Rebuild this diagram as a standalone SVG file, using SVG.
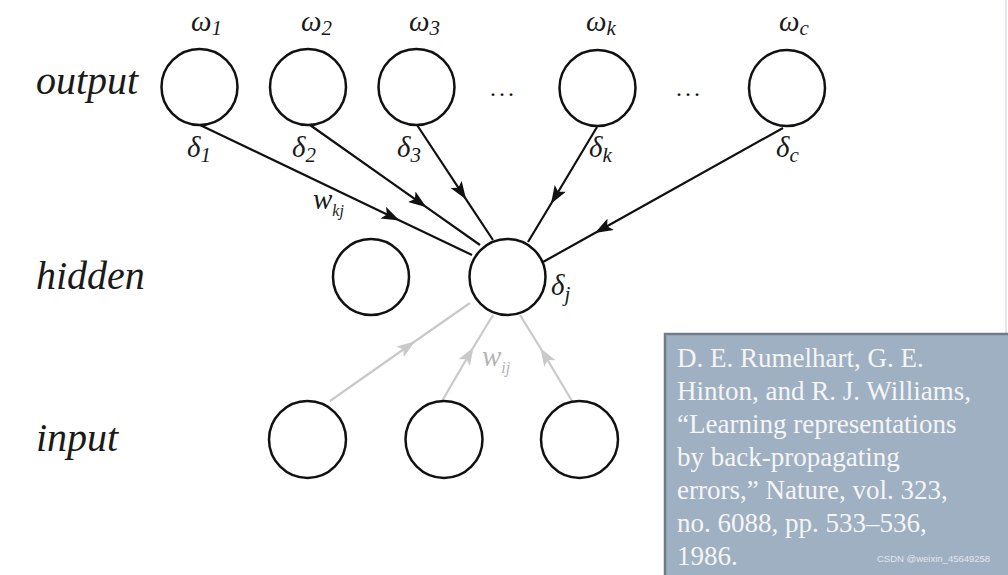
<svg xmlns="http://www.w3.org/2000/svg" width="1008" height="575" viewBox="0 0 1008 575">
<style>
.node{fill:#fff;stroke:#111;stroke-width:2.5}
.lbl{font-family:"Liberation Serif",serif;font-style:italic;font-size:40px;fill:#1a1a1a}
.sym{font-family:"Liberation Serif",serif;font-style:italic;font-size:29px;fill:#1a1a1a}
.sub{font-size:21px}
.dots{font-family:"Liberation Serif",serif;font-size:24px;fill:#111;letter-spacing:3px}
.blk{stroke:#111;stroke-width:2.2;fill:none;marker-mid:url(#ab)}
.gry{stroke:#c9c9c9;stroke-width:2.2;fill:none;marker-mid:url(#ag)}
.ref{font-family:"Liberation Serif",serif;font-size:27px;fill:#f5f5f5}
</style>
<defs>
<marker id="ab" viewBox="0 0 18 13" refX="17" refY="6.5" markerWidth="18" markerHeight="13" markerUnits="userSpaceOnUse" orient="auto"><path d="M0,0 L18,6.5 L0,13 L4,6.5 Z" fill="#111"/></marker>
<marker id="ag" viewBox="0 0 18 13" refX="17" refY="6.5" markerWidth="18" markerHeight="13" markerUnits="userSpaceOnUse" orient="auto"><path d="M0,0 L18,6.5 L0,13 L4,6.5 Z" fill="#c9c9c9"/></marker>
</defs>
<rect width="1008" height="575" fill="#fff"/>
<line x1="1006" y1="0" x2="1006" y2="333" stroke="#e4e6ea" stroke-width="2"/>

<g id="layer-labels">
<text class="lbl" x="36" y="94">output</text>
<text class="lbl" x="36" y="289">hidden</text>
<text class="lbl" x="36" y="451">input</text>
</g>

<g id="connectors">
<path class="blk" d="M200,125 L398.6,220 L472,255"/>
<path class="blk" d="M310,125 L425.6,206.6 L480,245"/>
<path class="blk" d="M417,125 L465.6,198.6 L493,240"/>
<path class="blk" d="M597,127 L551.5,203 L528,242"/>
<path class="blk" d="M783,128 L595.8,232.5 L543,262"/>
<path class="gry" d="M330,401 L414,342 L470,303"/>
<path class="gry" d="M442,401 L473,348 L493,315"/>
<path class="gry" d="M572,401 L541,349 L520,315"/>
</g>

<g id="out1"><circle class="node" cx="199.5" cy="87" r="38"/>
<text class="sym" x="191" y="31">ω<tspan class="sub" dy="4">1</tspan></text>
<text class="sym" x="187" y="157">δ<tspan class="sub" dy="5">1</tspan></text></g>
<g id="out2"><circle class="node" cx="308" cy="87" r="38"/>
<text class="sym" x="301" y="31">ω<tspan class="sub" dy="4">2</tspan></text>
<text class="sym" x="292" y="157">δ<tspan class="sub" dy="5">2</tspan></text></g>
<g id="out3"><circle class="node" cx="416.5" cy="87" r="38"/>
<text class="sym" x="409" y="31">ω<tspan class="sub" dy="4">3</tspan></text>
<text class="sym" x="397" y="157">δ<tspan class="sub" dy="5">3</tspan></text></g>
<g id="dots1"><text class="dots" x="490" y="96">...</text></g>
<g id="outk"><circle class="node" cx="597.5" cy="88" r="38"/>
<text class="sym" x="586" y="31">ω<tspan class="sub" dy="4">k</tspan></text>
<text class="sym" x="589" y="157">δ<tspan class="sub" dy="5">k</tspan></text></g>
<g id="dots2"><text class="dots" x="676" y="96">...</text></g>
<g id="outc"><circle class="node" cx="787" cy="88" r="38"/>
<text class="sym" x="779" y="31">ω<tspan class="sub" dy="4">c</tspan></text>
<text class="sym" x="776" y="157">δ<tspan class="sub" dy="5">c</tspan></text></g>

<g id="hid1"><circle class="node" cx="371" cy="277" r="38"/></g>
<g id="hidj"><circle class="node" cx="507.5" cy="277" r="38"/>
<text class="sym" x="551" y="295">δ<tspan class="sub" dy="6">j</tspan></text></g>

<g id="in1"><circle class="node" cx="307.5" cy="439.5" r="38.5"/></g>
<g id="in2"><circle class="node" cx="444" cy="439.5" r="38.5"/></g>
<g id="in3"><circle class="node" cx="579.5" cy="439.5" r="38.5"/></g>

<g id="weights">
<text class="sym" x="313" y="209">w<tspan class="sub" style="font-size:16px" dy="7">kj</tspan></text>
<text class="sym" x="482" y="366" style="fill:#b4b4b4">w<tspan class="sub" style="font-size:16px" dy="7">ij</tspan></text>
</g>

<g id="reference">
<rect x="665" y="334" width="345" height="245" fill="#9fb0c3" stroke="#727c88" stroke-width="2.5"/>
<text class="ref" x="677" y="367">D. E. Rumelhart, G. E.</text>
<text class="ref" x="677" y="400">Hinton, and R. J. Williams,</text>
<text class="ref" x="677" y="433">“Learning representations</text>
<text class="ref" x="677" y="466">by back-propagating</text>
<text class="ref" x="677" y="499">errors,” Nature, vol. 323,</text>
<text class="ref" x="677" y="532">no. 6088, pp. 533–536,</text>
<text class="ref" x="677" y="565">1986.</text>
<text x="877" y="562" font-family="Liberation Sans, sans-serif" font-size="9.5" fill="#e2e6ec">CSDN @weixin_45649258</text>
</g>
</svg>
